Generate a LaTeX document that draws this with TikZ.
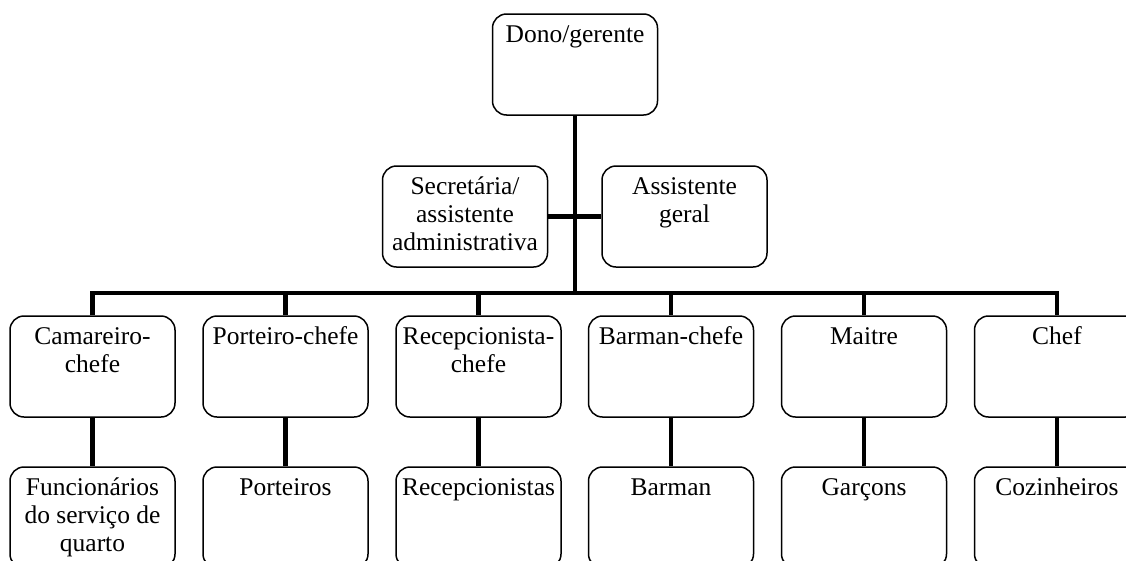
\documentclass[tikz,border=0pt]{standalone}
\usepackage{fontspec}
\setmainfont{Liberation Serif}
\tikzset{
  box/.style={draw, line width=1.5pt, rounded corners=14pt,
    minimum width=165pt, minimum height=101pt, inner sep=0pt, fill=white},
  txt/.style={anchor=north, align=center, inner sep=0pt,
    font=\fontsize{25.5}{28}\selectfont},
  conn/.style={line width=4.8pt, line join=miter},
}
% strut that puts the first baseline a fixed distance below the box top
\newcommand\firstline{\rule{0pt}{29pt}}
\begin{document}
\begin{tikzpicture}[x=1pt, y=-1pt]
  \useasboundingbox (0,0) rectangle (1126,560);
  \clip (0,0) rectangle (1126,560);

  % owner and staff assistants
  \node[box] (top)  at (575,64.5)    {};
  \node[box] (sec)  at (465,216.5)   {};
  \node[box] (asst) at (684.5,216.5) {};
  \node[txt] (topT)  at (top.north)  {\firstline Dono/gerente};
  \node[txt] (secT)  at (sec.north)  {\firstline Secretária/\\assistente\\administrativa};
  \node[txt] (asstT) at (asst.north) {\firstline Assistente\\geral};

  % department heads
  \node[box] (c1) at (92.5,366.5)  {};
  \node[box] (c2) at (285.5,366.5) {};
  \node[box] (c3) at (478.5,366.5) {};
  \node[box] (c4) at (671,366.5)   {};
  \node[box] (c5) at (864,366.5)   {};
  \node[box] (c6) at (1057,366.5)  {};
  \node[txt] (c1T) at (c1.north) {\firstline Camareiro-\\chefe};
  \node[txt] (c2T) at (c2.north) {\firstline Porteiro-chefe};
  \node[txt] (c3T) at (c3.north) {\firstline Recepcionista-\\chefe};
  \node[txt] (c4T) at (c4.north) {\firstline Barman-chefe};
  \node[txt] (c5T) at (c5.north) {\firstline Maitre};
  \node[txt] (c6T) at (c6.north) {\firstline Chef};

  % staff
  \node[box] (f1) at (92.5,517.5)  {};
  \node[box] (f2) at (285.5,517.5) {};
  \node[box] (f3) at (478.5,517.5) {};
  \node[box] (f4) at (671,517.5)   {};
  \node[box] (f5) at (864,517.5)   {};
  \node[box] (f6) at (1057,517.5)  {};
  \node[txt] (f1T) at (f1.north) {\firstline Funcionários\\do serviço de\\quarto};
  \node[txt] (f2T) at (f2.north) {\firstline Porteiros};
  \node[txt] (f3T) at (f3.north) {\firstline Recepcionistas};
  \node[txt] (f4T) at (f4.north) {\firstline Barman};
  \node[txt] (f5T) at (f5.north) {\firstline Garçons};
  \node[txt] (f6T) at (f6.north) {\firstline Cozinheiros};

  % connectors
  \coordinate (bus) at (575,293);
  \draw[conn] (top.south) -- (bus);
  \draw[conn] (sec.east) -- (asst.west);
  \draw[conn] (c1.north) -- (c1.north |- bus) -- (c6.north |- bus) -- (c6.north);
  \foreach \i in {2,...,5} {
    \draw[conn] (c\i.north) -- (c\i.north |- bus);
  }
  \foreach \i in {1,...,6} {
    \draw[conn] (c\i.south) -- (f\i.north);
  }
\end{tikzpicture}
\end{document}
